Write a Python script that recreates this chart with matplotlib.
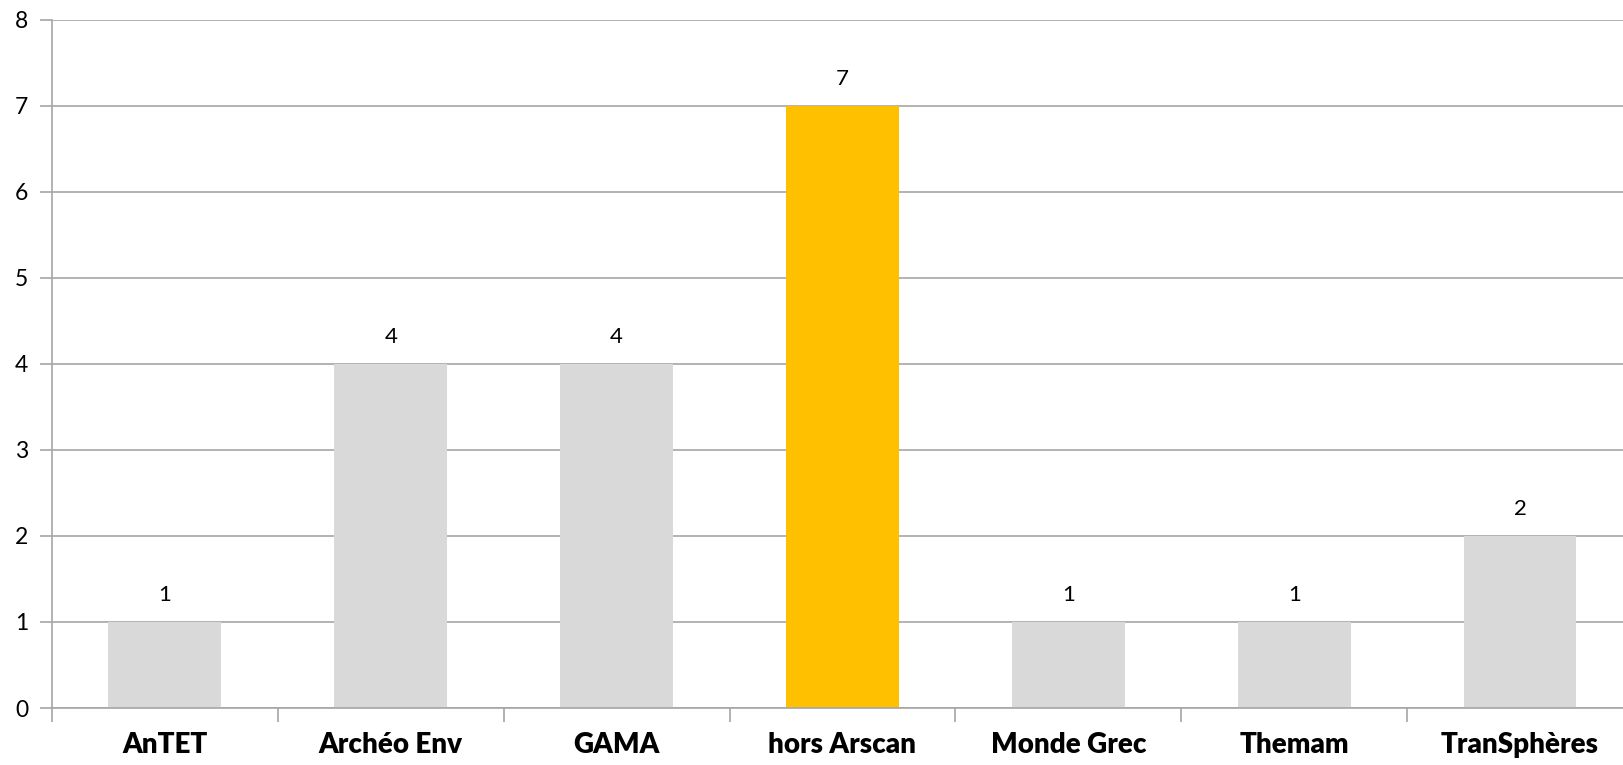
import matplotlib.pyplot as plt
import numpy as np
from matplotlib.ticker import FixedLocator

categories = ['AnTET', 'Archéo Env', 'GAMA', 'hors Arscan', 'Monde Grec', 'Themam', 'TranSphères']
values = [1, 4, 4, 7, 1, 1, 2]
highlight = 'hors Arscan'

plt.rcParams['font.family'] = ['Lato', 'DejaVu Sans']

grey = '#D9D9D9'
gold = '#FFC000'
line_col = '#A6A6A6'

fig = plt.figure(figsize=(16.23, 7.65), dpi=100)
ax = fig.add_axes([0.032, 0.0745, 0.968, 0.8995])

x = np.arange(len(categories))
colors = [gold if c == highlight else grey for c in categories]
bars = ax.bar(x, values, width=0.5, color=colors, zorder=2)

for xi, v in zip(x, values):
    ax.annotate(str(v), (xi, v), xytext=(0, 12), textcoords='offset points',
                ha='center', va='bottom', fontsize=16, color='#000000')

ax.set_ylim(0, 8)
ax.set_xlim(-0.5, 6.456)
ax.set_yticks(range(0, 9))
ax.yaxis.grid(True, color=line_col, linewidth=1.2, zorder=0)
ax.set_axisbelow(True)

ax.set_xticks(x)
ax.set_xticklabels(categories, fontsize=20, fontweight='heavy')
ax.xaxis.set_minor_locator(FixedLocator(np.arange(-0.5, 6.5, 1.0)))
ax.tick_params(axis='x', which='major', length=0, pad=17)
ax.tick_params(axis='x', which='minor', length=10, color=line_col, width=1.2)
ax.tick_params(axis='y', length=9, color=line_col, width=1.2, labelsize=16.5, pad=8)

for side in ['top', 'right']:
    ax.spines[side].set_visible(False)
for side in ['left', 'bottom']:
    ax.spines[side].set_color(line_col)
    ax.spines[side].set_linewidth(1.2)

fig.savefig('out.png', dpi=100)
